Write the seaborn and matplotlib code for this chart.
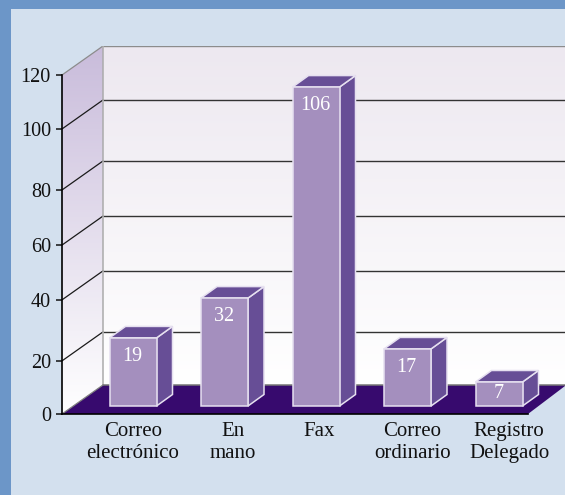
import numpy as np
import pandas as pd
import matplotlib
matplotlib.use("Agg")
import matplotlib.pyplot as plt
import seaborn as sns
from matplotlib.patches import Polygon, Rectangle
from matplotlib.colors import LinearSegmentedColormap

# data
canales = ["Correo\nelectrónico", "En\nmano", "Fax", "Correo\nordinario", "Registro\nDelegado"]
alturas = [24.1, 38.2, 112.9, 20.2, 8.5]  # bar heights as read against the axis
etiquetas = ["19", "32", "106", "17", "7"]  # the printed labels
y_ticks = [0, 18.8, 40.4, 59.8, 79.3, 100.9, 120]
y_labels = ["0", "20", "40", "60", "80", "100", "120"]

# layout, in pixels of the 565x495 picture
W, H = 565, 495
left, right, top, bottom = 62, 565, 46, 414
px_x = 91.5      # px per category
px_y = 2.825     # px per axis unit
x0 = (62 - 133) / px_x

sns.set_theme(style="white")
plt.rcParams["font.family"] = ["Liberation Serif", "DejaVu Serif"]

fig = plt.figure(figsize=(W / 100, H / 100), dpi=100, facecolor="#6c96c8")
fig.add_artist(Rectangle((11 / W, 0), 1 - 11 / W, 1 - 9 / H, transform=fig.transFigure,
                         facecolor="#d3e0ee", edgecolor="none", zorder=-5))
ax = fig.add_axes([left / W, 1 - bottom / H, (right - left) / W, (bottom - top) / H])
ax.patch.set_alpha(0)

df = pd.DataFrame({"canal": canales, "altura": alturas})
sns.barplot(data=df, x="canal", y="altura", color="#a48fbe", saturation=1, width=47 / px_x,
            edgecolor="#e6e0f0", linewidth=1.1, zorder=6, ax=ax)

xlim = (x0, x0 + (right - left) / px_x)
ylim = (0, (bottom - top) / px_y)
dep_x, dep_y = 41 / px_x, 29 / px_y      # wall depth
bar_dx, bar_dy = 16 / px_x, 11.5 / px_y  # bar depth
lift = 8 / px_y                          # bars stand a bit behind the axis plane


def dx(p):
    return x0 + (p - left) / px_x


def wall_gradient(c_top, c_bot, y_a, clip):
    cm = LinearSegmentedColormap.from_list("g", [c_top, c_bot])
    im = ax.imshow(np.linspace(0, 1, 128).reshape(-1, 1), cmap=cm, aspect="auto", origin="upper",
                   extent=(xlim[0], xlim[1], y_a, ylim[1]), zorder=1)
    poly = Polygon(clip, closed=True, transform=ax.transData, facecolor="none", edgecolor="none")
    ax.add_patch(poly)
    im.set_clip_path(poly)


# back wall
x_back = dx(103)
wall_gradient("#ede8f0", "#ffffff", dep_y, [(x_back, dep_y), (xlim[1], dep_y), (xlim[1], ylim[1]), (x_back, ylim[1])])
# side wall
wall_gradient("#c9bcdb", "#ffffff", 0, [(dx(62), 0), (x_back, dep_y), (x_back, dep_y + 120), (dx(62), 120)])

# grid on the walls
for t in y_ticks[1:]:
    col = "#8c8c8c" if t == 120 else "#1a1a1a"
    ax.plot([dx(62), x_back], [t, t + dep_y], color=col, lw=0.9, zorder=2)
    ax.plot([x_back, xlim[1]], [t + dep_y, t + dep_y], color="#8c8c8c" if t == 120 else "#333333",
            lw=1.0, zorder=2, solid_capstyle="butt")
ax.plot([x_back, x_back], [dep_y, dep_y + 120], color="#ababab", lw=1.1, zorder=2)
ax.plot([x_back, xlim[1]], [dep_y, dep_y], color="#777777", lw=1.1, zorder=3)

# floor
ax.add_patch(Polygon([(dx(62), 0), (dx(528), 0), (xlim[1], (414 - 386) / px_y), (xlim[1], dep_y), (x_back, dep_y)],
                     closed=True, facecolor="#370a6e", edgecolor="none", zorder=2.5))
ax.plot([dx(62), x_back], [0, dep_y], color="#808080", lw=0.9, zorder=2.6)

# the bars, extruded
for p, txt in zip(ax.patches[:5], etiquetas):
    p.set_y(lift)
    a, b = p.get_x(), p.get_x() + p.get_width()
    y1 = lift + p.get_height()
    ax.add_patch(Polygon([(b, lift), (b + bar_dx, lift + bar_dy), (b + bar_dx, y1 + bar_dy), (b, y1)], closed=True,
                         facecolor="#674e96", edgecolor="#e6e0f0", lw=1.1, zorder=5))
    ax.add_patch(Polygon([(a, y1), (a + bar_dx, y1 + bar_dy), (b + bar_dx, y1 + bar_dy), (b, y1)], closed=True,
                         facecolor="#674e96", edgecolor="#e6e0f0", lw=1.1, zorder=5))
    off = -8.5 if txt == "7" else -13.5
    ax.annotate(txt, ((a + b) / 2, y1), xytext=(-0.5, off), textcoords="offset points", ha="center", va="center",
                color="white", fontsize=14.5, zorder=7)

ax.set_xlim(xlim)
ax.set_ylim(ylim)
ax.set_xlabel("")
ax.set_ylabel("")
ax.set_yticks(y_ticks, y_labels)
ax.set_xticks([0, 1.09, 2.03, 3.05, 4.11], canales)
ax.tick_params(axis="y", length=4, width=1.1, color="#111111", labelsize=14.5, pad=4, labelcolor="#111111", left=True)
ax.tick_params(axis="x", length=0, labelsize=15, pad=6, labelcolor="#111111")
for lab in ax.get_xticklabels():
    lab.set_linespacing(1.22)

sns.despine(ax=ax, top=True, right=True)
ax.spines["left"].set_bounds(0, 120)
ax.spines["bottom"].set_bounds(dx(62), dx(528))
for s in ("left", "bottom"):
    ax.spines[s].set_color("#000000")
    ax.spines[s].set_linewidth(1.2)
    ax.spines[s].set_zorder(8)

fig.savefig("out.png", dpi=100, facecolor=fig.get_facecolor())
